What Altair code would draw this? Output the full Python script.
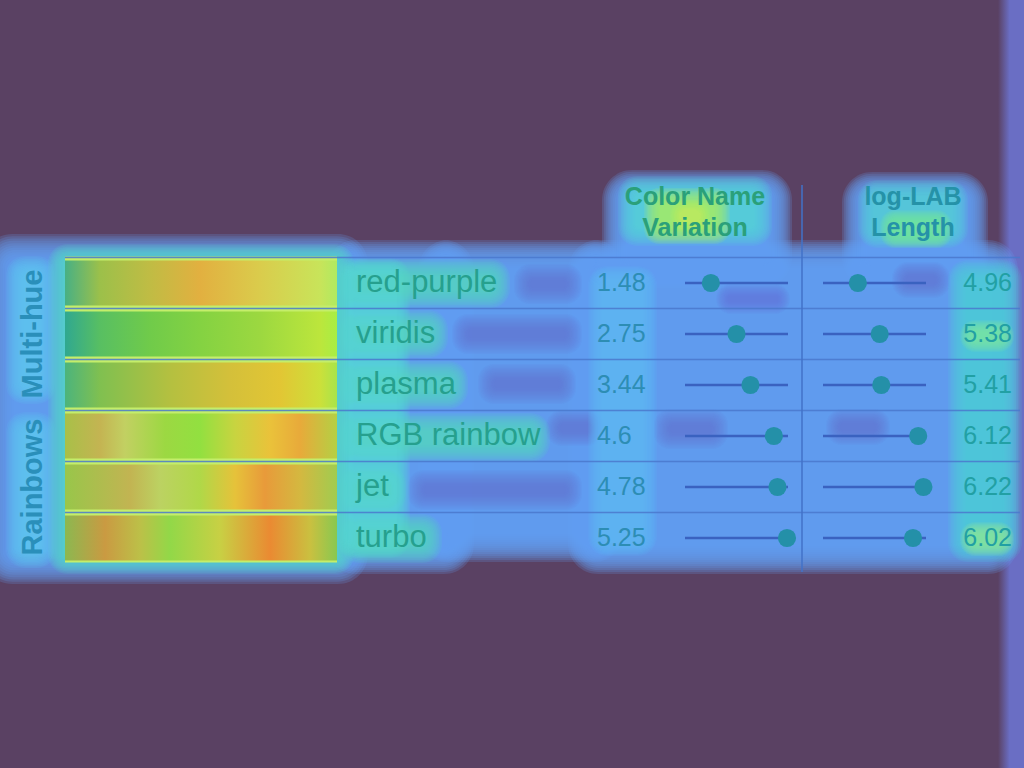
import altair as alt
import pandas as pd

# ---------------- data ----------------
groups = ["Multi-hue", "Rainbows"]
group_centre_rows = [1, 4]
names = ["red-purple", "viridis", "plasma", "RGB rainbow", "jet", "turbo"]
color_name_variation = [1.48, 2.75, 3.44, 4.6, 4.78, 5.25]
log_lab_length = [4.96, 5.38, 5.41, 6.12, 6.22, 6.02]
header_lines = [["Color Name", "Variation"], ["log-LAB", "Length"]]

# ---------------- style / layout ----------------
FONT = "Liberation Sans"
BG = "#5a4163"
ROW_Y = alt.Scale(domain=[0, 5], range=[283, 538], nice=False, zero=False)
CNV_SCALE = alt.Scale(domain=[0.2, 5.3], range=[685, 788], nice=False, zero=False)
LAB_SCALE = alt.Scale(domain=[4.29, 6.27], range=[823, 926], nice=False, zero=False)

# heat-map overlay blobs (decoration): x1, x2, y1, y2, spread, colour
blue_tier = [
    (14, 336, 266, 552, 32, "#66a2f5"),
    (354, 446, 268, 546, 28, "#66a2f5"),
    (446, 596, 268, 534, 28, "#66a2f5"),
    (596, 990, 268, 546, 28, "#66a2f5"),
    (628, 766, 196, 262, 26, "#66a2f5"),
    (868, 962, 198, 262, 26, "#66a2f5"),
]
cold_tier = [
    (530, 566, 280, 288, 16, "#6b6fd2"),
    (468, 566, 330, 338, 16, "#6b6fd2"),
    (494, 560, 380, 388, 16, "#6b6fd2"),
    (424, 566, 486, 494, 16, "#6b6fd2"),
    (560, 590, 424, 432, 14, "#6b6fd2"),
    (670, 712, 425, 433, 16, "#6b70d4"),
    (840, 876, 423, 431, 14, "#6b70d4"),
    (906, 936, 276, 284, 14, "#6b70d4"),
    (728, 778, 296, 302, 12, "#6b78dc"),
]
cyan_tier = [
    (24, 38, 274, 386, 18, "#5cc6f2"),
    (24, 38, 430, 550, 18, "#5cc6f2"),
    (64, 338, 260, 558, 16, "#56dcc6"),
    (350, 396, 272, 544, 14, "#55d6d6"),
    (358, 492, 277, 290, 18, "#56dcc4"),
    (358, 430, 328, 340, 18, "#56dcc4"),
    (358, 450, 379, 391, 18, "#56dcc4"),
    (358, 532, 431, 444, 18, "#56dcc4"),
    (358, 388, 483, 496, 18, "#56dcc4"),
    (358, 424, 532, 545, 18, "#56dcc4"),
    (602, 643, 280, 542, 14, "#5cbcf4"),
    (966, 1004, 278, 544, 18, "#4fd4da"),
    (636, 754, 194, 228, 18, "#52d8d8"),
    (874, 952, 196, 232, 16, "#52d4dc"),
]
hot_tier = [
    (660, 714, 204, 228, 16, "#a8ee62"),
    (680, 700, 210, 222, 10, "#d0f05a"),
    (892, 940, 222, 236, 12, "#74e49a"),
    (972, 1002, 332, 340, 12, "#78e4a0"),
    (972, 1002, 534, 544, 12, "#88e898"),
]

# swatch heat gradients (x position in px, colour)
swatch_stops = [
    [(65, "#48b084"), (100, "#9cc04a"), (150, "#c0bc44"), (200, "#e2b040"), (260, "#dacc4c"), (320, "#c8e45a"), (337, "#b0ea60")],
    [(65, "#30a890"), (100, "#58bf62"), (150, "#70cb4a"), (200, "#84d242"), (260, "#9cd840"), (320, "#bce63c"), (337, "#a8ee44")],
    [(65, "#4cb47c"), (100, "#80c050"), (170, "#b4c040"), (230, "#d4c03a"), (280, "#e2c634"), (320, "#cce03a"), (337, "#a8e44a")],
    [(65, "#a8c048"), (100, "#c4b452"), (125, "#c2d062"), (165, "#9cd842"), (200, "#92e040"), (235, "#c8d440"), (270, "#eac23a"), (300, "#e8aa3a"), (337, "#b4d044")],
    [(65, "#98c64a"), (130, "#c2b452"), (160, "#bcd262"), (200, "#b0d848"), (235, "#e6c23a"), (265, "#e89a3a"), (300, "#d4b840"), (337, "#a0cc50")],
    [(65, "#8cb850"), (105, "#ca9a42"), (140, "#bcc048"), (170, "#92d848"), (220, "#c8d044"), (270, "#ea8a32"), (310, "#cac040"), (337, "#88c850")],
]
SW_X0, SW_X1 = 65, 337


def glow_layers(tier, alpha, steps, base_radius):
    """Soft blob: a stack of concentric rounded rectangles at low opacity."""
    df = pd.DataFrame(tier, columns=["x1", "x2", "y1", "y2", "spread", "color"])
    min_spread = df["spread"].min()
    out = []
    for i in range(steps, -1, -1):
        f = i / steps
        d = df.assign(
            x1=df["x1"] - df["spread"] * f, x2=df["x2"] + df["spread"] * f,
            y1=df["y1"] - df["spread"] * f, y2=df["y2"] + df["spread"] * f,
        )
        out.append(
            alt.Chart(d)
            .mark_rect(opacity=alpha, cornerRadius=base_radius + min_spread * f, strokeWidth=0)
            .encode(
                x=alt.X("x1:Q", scale=None, axis=None), x2="x2:Q",
                y=alt.Y("y1:Q", scale=None, axis=None), y2="y2:Q",
                fill=alt.Fill("color:N", scale=None),
            )
        )
    return out


one = pd.DataFrame({"a": [0]})
layers = []

# right edge strip
layers.append(
    alt.Chart(one).mark_rect(
        fill={"gradient": "linear", "x1": 0, "x2": 1, "y1": 0, "y2": 0,
              "stops": [{"offset": 0, "color": BG}, {"offset": 0.45, "color": "#6a6ec4"},
                        {"offset": 1, "color": "#6a6ec4"}]}
    ).encode(x=alt.value(998), x2=alt.value(1024), y=alt.value(0), y2=alt.value(768))
)

layers += glow_layers(blue_tier, 0.2, 14, 4)
layers += glow_layers(cold_tier, 0.085, 12, 4)
layers += glow_layers(cyan_tier, 0.13, 12, 5)
layers += glow_layers(hot_tier, 0.13, 12, 5)

# bright gaps between swatches
layers.append(
    alt.Chart(pd.DataFrame({"lo": [-0.52], "hi": [len(names) - 0.52]})).mark_rect(fill="#c4ee6a").encode(
        x=alt.value(SW_X0), x2=alt.value(SW_X1),
        y=alt.Y("lo:Q", scale=ROW_Y, axis=None), y2="hi:Q")
)

# swatches
for i, stops in enumerate(swatch_stops):
    sdf = pd.DataFrame({"lo": [i - 0.44], "hi": [i + 0.44]})
    grad = {"gradient": "linear", "x1": 0, "x2": 1, "y1": 0, "y2": 0,
            "stops": [{"offset": (x - SW_X0) / (SW_X1 - SW_X0), "color": c} for x, c in stops]}
    layers.append(
        alt.Chart(sdf).mark_rect(fill=grad).encode(
            x=alt.value(SW_X0), x2=alt.value(SW_X1),
            y=alt.Y("lo:Q", scale=ROW_Y, axis=None), y2="hi:Q")
    )

# row separators
sep = pd.DataFrame({"b": [r - 0.5 for r in range(len(names))]})
layers.append(
    alt.Chart(sep).mark_rule(color="#4a78cc", strokeWidth=1.5, opacity=0.85).encode(
        x=alt.value(65), x2=alt.value(1020), y=alt.Y("b:Q", scale=ROW_Y, axis=None))
)
# column divider
layers.append(
    alt.Chart(one).mark_rule(color="#4272c8", strokeWidth=1.5).encode(
        x=alt.value(802), y=alt.value(185), y2=alt.value(572))
)

rows = pd.DataFrame({
    "row": list(range(len(names))),
    "name": names,
    "cnv": color_name_variation,
    "lab": log_lab_length,
    "cnv_txt": [str(v) for v in color_name_variation],
    "lab_txt": [str(v) for v in log_lab_length],
    "cnv_lo": CNV_SCALE.domain[0], "cnv_hi": CNV_SCALE.domain[1],
    "lab_lo": LAB_SCALE.domain[0], "lab_hi": LAB_SCALE.domain[1],
})
Y = alt.Y("row:Q", scale=ROW_Y, axis=None)

# lollipops
layers.append(alt.Chart(rows).mark_rule(color="#3a62c0", strokeWidth=2.5).encode(
    x=alt.X("cnv_lo:Q", scale=CNV_SCALE, axis=None), x2="cnv_hi:Q", y=Y))
layers.append(alt.Chart(rows).mark_circle(size=330, color="#2490a8", opacity=1).encode(
    x=alt.X("cnv:Q", scale=CNV_SCALE, axis=None), y=Y))
layers.append(alt.Chart(rows).mark_rule(color="#3a62c0", strokeWidth=2.5).encode(
    x=alt.X("lab_lo:Q", scale=LAB_SCALE, axis=None), x2="lab_hi:Q", y=Y))
layers.append(alt.Chart(rows).mark_circle(size=330, color="#2490a8", opacity=1).encode(
    x=alt.X("lab:Q", scale=LAB_SCALE, axis=None), y=Y))

# texts
layers.append(alt.Chart(rows).mark_text(align="left", baseline="middle", font=FONT, fontSize=31,
                                        color="#26a08e").encode(x=alt.value(356), y=Y, text="name:N"))
layers.append(alt.Chart(rows).mark_text(align="left", baseline="middle", font=FONT, fontSize=25,
                                        color="#2d8db4").encode(x=alt.value(597), y=Y, text="cnv_txt:N"))
layers.append(alt.Chart(rows).mark_text(align="right", baseline="middle", font=FONT, fontSize=25,
                                        color="#22a0a4").encode(x=alt.value(1012), y=Y, text="lab_txt:N"))

gdf = pd.DataFrame({"g": groups, "row": group_centre_rows})
layers.append(alt.Chart(gdf).mark_text(align="center", baseline="middle", angle=270, font=FONT,
                                       fontSize=29, fontWeight="bold", color="#2a8fba").encode(
    x=alt.value(33), y=Y, text="g:N"))

header_x = [695, 913]
header_colors = ["#2aa07a", "#2592a8"]
line_y = [197, 228]
for hx, hc, lines in zip(header_x, header_colors, header_lines):
    for ly, txt in zip(line_y, lines):
        layers.append(alt.Chart(pd.DataFrame({"t": [txt]})).mark_text(
            align="center", baseline="middle", font=FONT, fontSize=25, fontWeight="bold",
            color=hc).encode(x=alt.value(hx), y=alt.value(ly), text="t:N"))

chart = (
    alt.layer(*layers)
    .properties(width=1024, height=768, padding=0, background=BG,
                autosize=alt.AutoSizeParams(type="none"))
    .resolve_scale(x="independent", y="independent")
    .configure_view(strokeWidth=0)
)

chart.save("out.html", embed_options={"renderer": "svg", "actions": False})
